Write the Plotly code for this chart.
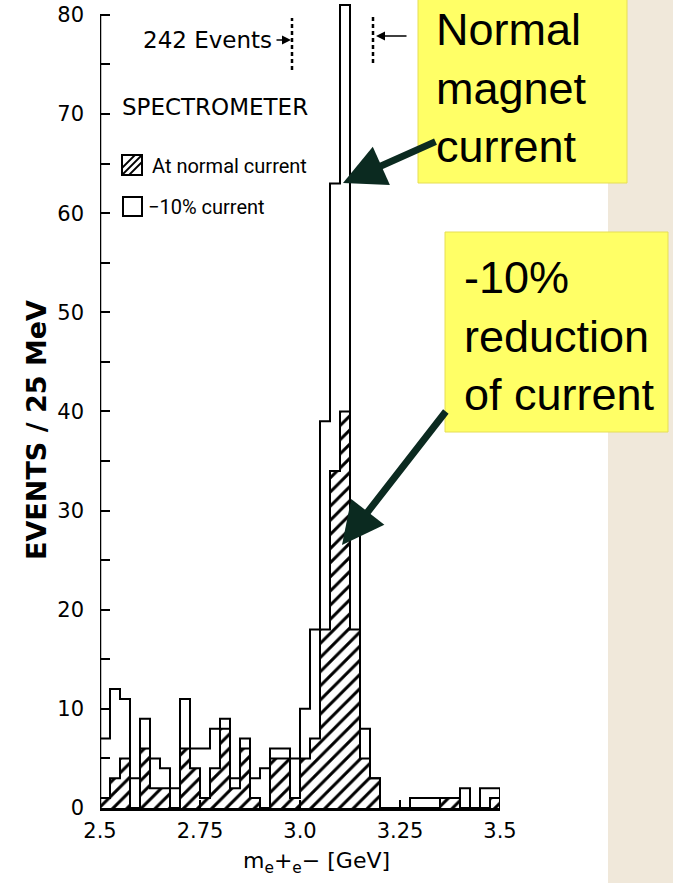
import plotly.graph_objects as go

# ---------------- data ----------------
bin_width_gev = 0.025
bin_edges = [round(2.5 + bin_width_gev * i, 4) for i in range(41)]
bin_centers = [round((bin_edges[i] + bin_edges[i + 1]) / 2, 4) for i in range(40)]

# -10% magnet current (open histogram)
minus10_counts = [7, 12, 11, 3, 9, 5, 4, 2, 11, 6,
                  6, 8, 9, 3, 7, 3, 4, 6, 6, 5,
                  10, 18, 39, 63, 81, 30, 8, 3, 0, 0,
                  0, 1, 1, 1, 1, 1, 2, 0, 2, 2]
# normal magnet current (hatched histogram)
normal_counts = [1, 3, 5, 0, 6, 2, 2, 0, 6, 4,
                 1, 4, 8, 2, 6, 1, 0, 5, 5, 1,
                 5, 7, 18, 34, 40, 18, 5, 3, 0, 0,
                 0, 0, 0, 0, 1, 1, 0, 0, 0, 1]

y_tick_values = list(range(0, 81, 5))
y_tick_labels = [str(v) if v % 10 == 0 else "" for v in y_tick_values]
x_tick_values = [2.5, 2.75, 3.0, 3.25, 3.5]
x_tick_labels = ["2.5", "2.75", "3.0", "3.25", "3.5"]
y_axis_max = 80
y_view_max = 81.4

# ---------------- helpers ----------------
W, H = 673, 883
L, R, T, B = 100, 173, 1, 75
PW, PH = W - L - R, H - T - B


def px(p):
    return (p - L) / PW


def py(p):
    return (H - B - p) / PH


def step_xy(counts):
    xs, ys = [bin_edges[0]], [0]
    for i, c in enumerate(counts):
        xs += [bin_edges[i], bin_edges[i + 1]]
        ys += [c, c]
    xs.append(bin_edges[-1])
    ys.append(0)
    return xs, ys


CHART_FONT = "DejaVu Sans"
ink = "black"

fig = go.Figure()

fig.add_trace(go.Bar(
    x=bin_centers, y=normal_counts, width=bin_width_gev,
    marker=dict(color="white", line=dict(width=0),
                pattern=dict(shape="/", fgcolor=ink, bgcolor="white",
                             size=10, solidity=0.3)),
    showlegend=False, hoverinfo="skip"))

hx, hy = step_xy(normal_counts)
fig.add_trace(go.Scatter(x=hx, y=hy, mode="lines", line=dict(color=ink, width=2),
                         showlegend=False, hoverinfo="skip"))
ox, oy = step_xy(minus10_counts)
fig.add_trace(go.Scatter(x=ox, y=oy, mode="lines", line=dict(color=ink, width=2),
                         showlegend=False, hoverinfo="skip"))

shapes = []
# y axis line only up to 80
shapes.append(dict(type="line", xref="x", yref="y", x0=bin_edges[0], x1=bin_edges[0],
                   y0=0, y1=y_axis_max, line=dict(color=ink, width=2.5)))
# beige background strip at the right
shapes.append(dict(type="rect", xref="paper", yref="paper", layer="below",
                   x0=px(608), x1=px(690), y0=py(900), y1=py(-10),
                   fillcolor="#F0E8DA", line=dict(width=0)))
# yellow callout boxes
shapes.append(dict(type="rect", xref="paper", yref="paper",
                   x0=px(418), x1=px(627), y0=py(183), y1=py(-3),
                   fillcolor="#FFFF66", line=dict(color="#E6DE55", width=1)))
shapes.append(dict(type="rect", xref="paper", yref="paper",
                   x0=px(445), x1=px(668), y0=py(432), y1=py(232),
                   fillcolor="#FFFF66", line=dict(color="#E6DE55", width=1)))
# dashed window markers
shapes.append(dict(type="line", xref="paper", yref="paper",
                   x0=px(292), x1=px(292), y0=py(70), y1=py(18),
                   line=dict(color=ink, width=2.5, dash="4px,3px")))
shapes.append(dict(type="line", xref="paper", yref="paper",
                   x0=px(373), x1=px(373), y0=py(63), y1=py(16),
                   line=dict(color=ink, width=2.5, dash="4px,3px")))
# legend swatches
shapes.append(dict(type="rect", xref="paper", yref="paper",
                   x0=px(122), x1=px(142), y0=py(175), y1=py(155),
                   fillcolor="white", line=dict(color=ink, width=2)))
for (a, b, c, d) in [(122, 168, 135, 155), (122, 175, 142, 155), (129, 175, 142, 162)]:
    shapes.append(dict(type="line", xref="paper", yref="paper",
                       x0=px(a), y0=py(b), x1=px(c), y1=py(d),
                       line=dict(color=ink, width=1.8)))
shapes.append(dict(type="rect", xref="paper", yref="paper",
                   x0=px(123), x1=px(142), y0=py(216), y1=py(197),
                   fillcolor="white", line=dict(color=ink, width=2)))

ann = []


def text(t, x, y, size, xanchor="center", yanchor="middle", family=CHART_FONT, angle=0):
    ann.append(dict(text=t, x=px(x), y=py(y), xref="paper", yref="paper",
                    xanchor=xanchor, yanchor=yanchor, showarrow=False, textangle=angle,
                    align="left" if xanchor == "left" else "center",
                    font=dict(family=family, size=size, color=ink)))


def arrow(tip, tail, color, width, head, size):
    ann.append(dict(text="", x=px(tip[0]), y=py(tip[1]), xref="paper", yref="paper",
                    ax=tail[0] - tip[0], ay=tail[1] - tip[1], showarrow=True,
                    arrowcolor=color, arrowwidth=width, arrowhead=head, arrowsize=size,
                    standoff=0, startstandoff=0))


text("242 Events", 207, 40, 23)
arrow((291, 40), (275, 40), ink, 1.5, 2, 1.2)
arrow((376, 36), (408, 36), ink, 1.5, 2, 1.2)
text("SPECTROMETER", 215, 107, 23)
text("At normal current", 150, 166, 20, xanchor="left",
     family="Liberation Sans Narrow, Roboto, sans-serif")
text("\u221210% current", 146, 207, 20, xanchor="left",
     family="Liberation Sans Narrow, Roboto, sans-serif")
text("<b>EVENTS / 25 MeV</b>", 36, 430, 27, angle=-90)
text("m<sub>e</sub>+<sub>e</sub>\u2212 [GeV]", 316, 862, 22)

BOX_FONT = "Liberation Sans, Arial, sans-serif"
text("Normal<br>magnet<br>current", 434, 88, 45, xanchor="left", family=BOX_FONT)
text("-10%<br>reduction<br>of current", 462, 336, 45, xanchor="left", family=BOX_FONT)

arrow((343, 183), (437, 141), "#0B2A20", 7, 2, 1.2)
arrow((342, 545), (447, 410), "#0B2A20", 7, 2, 1.2)

fig.update_layout(
    template="none",
    width=W, height=H, autosize=False,
    margin=dict(l=L, r=R, t=T, b=B, pad=0, autoexpand=False),
    paper_bgcolor="white", plot_bgcolor="white",
    bargap=0, shapes=shapes, annotations=ann, showlegend=False,
    font=dict(family=CHART_FONT, color=ink),
)
fig.update_xaxes(range=[2.5, 3.5], showgrid=False, zeroline=False, automargin=False,
                 showline=True, linecolor=ink, linewidth=2.5,
                 ticks="inside", ticklen=8, tickwidth=2, tickcolor=ink,
                 tickvals=x_tick_values, ticktext=x_tick_labels,
                 tickfont=dict(family=CHART_FONT, size=21, color=ink),
                 ticklabelstandoff=2)
fig.update_yaxes(range=[0, y_view_max], showgrid=False, zeroline=False, automargin=False,
                 showline=False,
                 ticks="inside", ticklen=10, tickwidth=2, tickcolor=ink,
                 tickvals=y_tick_values, ticktext=y_tick_labels,
                 tickfont=dict(family=CHART_FONT, size=21, color=ink),
                 ticklabelstandoff=15)

fig.write_html("out.html")
